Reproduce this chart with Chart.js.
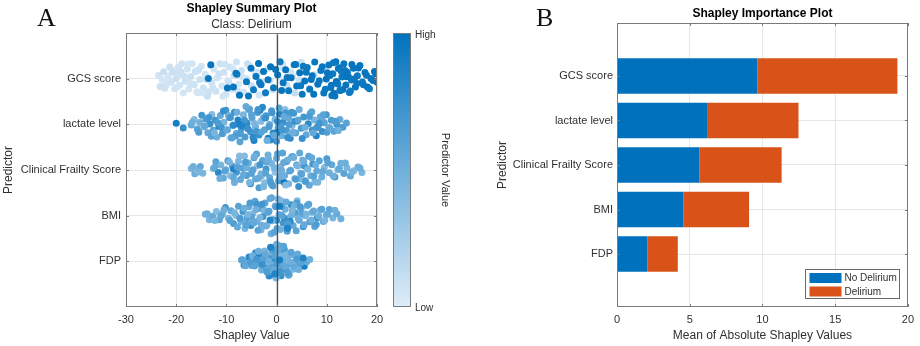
<!DOCTYPE html>
<html>
<head>
<meta charset="utf-8">
<script src="https://cdn.jsdelivr.net/npm/chart.js@4.4.1/dist/chart.umd.min.js"></script>
<style>
  body { margin: 0; background: #fff; width: 920px; height: 346px; position: relative; overflow: hidden; }
  .panel { position: absolute; top: 0; width: 460px; height: 346px; }
  .tag { position: absolute; font-family: "Liberation Serif", "Times New Roman", serif; font-size: 26px; line-height: 26px; color: #111; }
</style>
</head>
<body>
<div class="panel" style="left:0"><canvas id="summary"></canvas></div>
<div class="panel" style="left:460px"><canvas id="importance"></canvas></div>
<div class="tag" style="left:37px;top:5px">A</div>
<div class="tag" style="left:536px;top:5px">B</div>
<script>
// ---- data ----
const predictors = ['GCS score', 'lactate level', 'Clinical Frailty Score', 'BMI', 'FDP'];
const summaryTicks = [-30, -20, -10, 0, 10, 20];
const importanceTicks = [0, 5, 10, 15, 20];

// mean |shapley| per class
const noDelirium = [9.65, 6.24, 5.67, 4.57, 2.10];
const delirium = [9.63, 6.24, 5.65, 4.51, 2.08];

// [shapley value, predictor value 0..1] per observation
const gcs = [
  [-23.5,.06],[-23.2,.08],[-22.8,.05],[-22.5,.1],[-22.0,.07],[-21.6,.06],[-21.3,.09],[-21.0,.05],[-20.6,.08],[-20.3,.06],
  [-20.0,.1],[-19.6,.07],[-19.3,.05],[-19.0,.08],[-18.6,.06],[-18.2,.09],[-17.8,.07],[-17.5,.05],[-17.1,.1],[-16.8,.06],
  [-16.4,.08],[-16.0,.05],[-15.7,.07],[-15.3,.09],[-15.0,.06],[-14.6,.08],[-14.2,.05],[-13.8,.1],[-12.9,.07],[-12.5,.06],
  [-12.1,.08],[-11.7,.05],[-11.3,.09],[-10.9,.06],[-10.5,.08],[-10.1,.07],[-9.7,.05],[-9.3,.1],[-8.9,.06],[-8.5,.08],
  [-8.0,.07],[-7.5,.05],[-7.0,.09],[-6.5,.06],[-6.0,.08],[-5.4,.07],[-4.8,.05],[-4.2,.1],[-3.5,.06],[-2.8,.08],
  [-1.8,.07],[-0.8,.09],[0.4,.06],[1.2,.08],[2.0,.1],[2.8,.07],[3.6,.12],[4.5,.08],[5.4,.1],[6.5,.09],[7.5,.11],
  [-18.9,.07],[-17.3,.06],[-15.5,.09],[-13.5,.08],[-11.9,.06],[-10.3,.07],[-9.0,.05],[-19.8,.08],
  [-22.3,.07],[-21.8,.05],[-20.8,.09],[-19.9,.06],[-18.4,.08],[-17.7,.05],[-16.6,.07],[-16.2,.09],[-14.8,.06],[-14.0,.08],
  [-13.2,.05],[-12.7,.07],[-11.5,.09],[-10.7,.06],[-9.5,.08],[-8.7,.05],[-7.7,.07],[-6.8,.06],[-5.8,.08],[-5.0,.09],
  [-3.9,.07],[-2.4,.06],[-1.3,.08],[0.9,.07],[2.3,.09],[3.2,.06],[4.9,.08],[-21.1,.07],[-19.1,.09],[-15.9,.05],
  [-13.6,.95],[-13.1,.97],[-8.6,.96],[-8.1,.94],[-7.4,.98],[-6.0,.95],[-5.1,.97],[-4.6,.93],[-4.1,.96],[-3.6,.98],
  [-3.1,.95],[-2.6,.97],[-2.2,.94],[-1.7,.96],[-1.2,.98],[-0.6,.95],[0.2,.97],[0.7,.93],[1.3,.96],[1.8,.98],
  [2.4,.95],[2.9,.97],[3.5,.94],[4.0,.96],[4.6,.98],[5.1,.95],[5.6,.97],[6.1,.94],[6.6,.96],[7.1,.98],
  [7.6,.95],[8.2,.97],[8.8,.94],[9.4,.96],[9.9,.98],[10.4,.95],[10.8,.97],[11.2,.94],[11.6,.96],[12.0,.98],
  [12.3,.95],[12.7,.97],[13.0,.94],[13.4,.96],[13.8,.98],[14.1,.95],[14.5,.97],[14.9,.94],[15.3,.96],[15.7,.98],
  [16.1,.95],[16.6,.97],[17.1,.94],[17.6,.96],[18.1,.98],[18.8,.95],[19.5,.97],[20.0,.96],
  [10.1,.97],[11.0,.95],[11.9,.98],[12.5,.96],[13.2,.97],[14.3,.95],[15.0,.98],[16.0,.96],[12.9,.94],[11.4,.97],[6.9,.96],[5.3,.95],
  [-9.8,.96],[-7.9,.95],[-5.6,.97],[-3.4,.94],[-0.2,.96],[1.0,.98],[2.1,.95],[3.8,.97],[4.8,.94],[5.9,.96],
  [7.4,.98],[8.5,.95],[9.1,.97],[9.7,.94],[10.6,.96],[11.8,.98],[12.2,.95],[13.6,.97],[14.7,.94],[15.5,.96],
  [16.3,.98],[17.3,.95],[17.9,.97],[18.5,.94],[19.2,.96],[19.8,.98],[12.6,.95],[13.9,.97],[11.3,.94],[10.9,.96]
];
const lactate = [
  [-20.0,.9],[-18.6,.75],[-17.0,.55],[-16.4,.4],[-15.8,.6],[-15.3,.5],[-14.9,.7],[-14.5,.45],[-14.1,.65],[-13.7,.55],
  [-13.3,.75],[-12.9,.4],[-12.6,.6],[-12.2,.7],[-11.9,.5],[-11.5,.8],[-11.2,.55],[-10.8,.65],[-10.5,.45],[-10.1,.7],
  [-9.8,.6],[-9.4,.8],[-9.1,.5],[-8.7,.65],[-8.4,.75],[-8.0,.55],[-7.7,.85],[-7.3,.6],[-7.0,.7],[-6.6,.45],
  [-6.3,.65],[-5.9,.8],[-5.6,.55],[-5.2,.7],[-4.9,.6],[-4.5,.85],[-4.2,.5],[-3.8,.65],[-3.5,.75],[-3.1,.4],
  [-2.8,.8],[-2.4,.6],[-2.1,.7],[-1.7,.9],[-1.4,.55],[-1.0,.65],[-0.7,.8],[-0.3,.45],[0.0,.7],[0.3,.6],
  [0.6,.85],[1.0,.5],[1.3,.75],[1.7,.35],[2.0,.65],[2.4,.55],[2.7,.8],[3.1,.4],[3.4,.7],[3.8,.6],
  [4.1,.75],[4.5,.5],[4.9,.65],[5.4,.7],[5.9,.55],[6.3,.8],[6.7,.6],[7.1,.7],[7.5,.45],[7.9,.85],
  [8.3,.65],[8.7,.55],[9.1,.75],[9.5,.6],[9.9,.7],[10.4,.5],[10.9,.65],[11.4,.6],[12.0,.7],[12.6,.55],[13.2,.65],[13.9,.6],
  [-13.0,.6],[-11.0,.7],[-9.6,.5],[-8.2,.65],[-6.8,.75],[-5.4,.6],[-4.0,.7],[-2.6,.55],[-1.2,.8],[0.8,.65],
  [1.8,.7],[2.8,.5],[3.6,.75],[7.0,.6],[8.0,.7],[9.0,.55],[10.0,.65],[-7.5,.9],[-3.3,.85],[0.1,.9],
  [-16.8,.5],[-15.5,.65],[-14.3,.55],[-13.5,.7],[-12.4,.45],[-11.7,.65],[-10.6,.75],[-9.9,.55],[-9.2,.7],[-8.9,.6],
  [-8.6,.8],[-7.9,.5],[-7.2,.65],[-6.4,.7],[-6.1,.55],[-5.7,.75],[-5.0,.6],[-4.7,.8],[-4.4,.45],[-3.7,.7],
  [-3.0,.6],[-2.2,.75],[-1.9,.5],[-1.5,.65],[-0.9,.7],[-0.5,.55],[0.2,.8],[0.5,.6],[1.1,.7],[1.5,.55],
  [2.2,.75],[2.5,.65],[3.0,.7],[3.3,.5],[4.3,.6],[5.1,.75],[5.7,.5],[6.5,.65],[7.3,.55],[8.5,.7],
  [9.3,.6],[10.6,.55],[11.7,.65],[12.3,.5],[-6.9,.85]
];
const frailty = [
  [-17.0,.45],[-16.3,.5],[-15.8,.4],[-15.2,.55],[-14.7,.45],[-12.6,.5],[-12.1,.6],[-11.6,.8],[-11.1,.45],[-10.6,.55],
  [-10.1,.5],[-9.7,.65],[-9.2,.4],[-8.8,.6],[-8.4,.5],[-8.0,.7],[-7.6,.45],[-7.2,.55],[-6.8,.6],[-6.4,.4],
  [-6.0,.65],[-5.6,.5],[-5.2,.75],[-4.9,.45],[-4.5,.6],[-4.2,.55],[-3.8,.35],[-3.5,.65],[-3.1,.5],[-2.8,.6],
  [-2.4,.4],[-2.1,.7],[-1.7,.5],[-1.4,.55],[-1.0,.45],[-0.7,.6],[-0.3,.35],[0.0,.55],[0.4,.65],[0.8,.45],
  [1.2,.6],[1.6,.5],[2.0,.7],[2.4,.45],[2.8,.55],[3.2,.65],[3.6,.4],[4.0,.6],[4.4,.75],[4.8,.5],
  [5.2,.55],[5.6,.65],[6.0,.45],[6.4,.6],[6.8,.5],[7.2,.7],[7.6,.45],[8.0,.55],[8.5,.6],[9.0,.5],
  [9.5,.4],[10.0,.65],[10.5,.5],[11.0,.55],[11.6,.7],[12.2,.45],[12.8,.5],[13.4,.6],[14.0,.45],[14.7,.55],
  [15.4,.4],[16.2,.5],[17.0,.45],
  [-6.0,.5],[-4.0,.6],[-3.0,.45],[-2.0,.55],[-1.0,.65],[1.0,.5],[3.0,.6],[4.5,.45],[5.5,.7],[6.5,.55],
  [-5.0,.6],[2.2,.5],[1.5,.95],[-8.6,.85],
  [-16.6,.5],[-15.5,.45],[-12.3,.55],[-11.3,.5],[-10.3,.6],[-9.4,.45],[-8.6,.55],[-7.8,.6],[-7.4,.4],[-6.6,.55],
  [-6.2,.65],[-5.4,.45],[-4.7,.6],[-4.4,.5],[-3.6,.55],[-3.3,.7],[-2.6,.45],[-2.2,.6],[-1.6,.5],[-1.2,.65],
  [-0.5,.45],[0.2,.6],[0.6,.5],[1.4,.55],[1.8,.4],[2.6,.6],[3.4,.5],[3.8,.65],[4.2,.45],[4.6,.55],
  [5.0,.6],[5.4,.5],[5.8,.65],[6.2,.45],[7.0,.55],[7.4,.6],[7.8,.5],[8.2,.45],[9.2,.55],[10.2,.6],
  [11.3,.5],[12.5,.55],[13.7,.5],[15.0,.45],[16.6,.5]
];
const bmi = [
  [-14.2,.5],[-13.4,.45],[-12.7,.55],[-12.0,.4],[-11.4,.6],[-10.8,.5],[-10.2,.7],[-9.6,.45],[-9.1,.55],[-8.6,.65],
  [-8.1,.4],[-7.6,.6],[-7.1,.5],[-6.7,.7],[-6.3,.45],[-5.9,.6],[-5.5,.55],[-5.1,.75],[-4.7,.4],[-4.3,.6],
  [-3.9,.5],[-3.5,.65],[-3.1,.45],[-2.7,.7],[-2.3,.55],[-1.9,.35],[-1.5,.6],[-1.1,.5],[-0.7,.75],[-0.3,.45],
  [0.1,.65],[0.5,.55],[0.9,.4],[1.3,.7],[1.7,.5],[2.1,.6],[2.5,.45],[2.9,.75],[3.3,.55],[3.7,.65],
  [4.1,.4],[4.5,.6],[4.9,.5],[5.3,.7],[5.7,.45],[6.1,.55],[6.6,.65],[7.1,.5],[7.6,.6],[8.1,.75],
  [8.7,.45],[9.3,.55],[9.9,.5],[10.5,.6],[11.2,.45],[12.0,.55],[12.8,.5],
  [-5.0,.6],[-4.0,.7],[-3.0,.5],[-2.0,.65],[-1.0,.55],[0.0,.8],[1.0,.6],[2.0,.7],[3.0,.5],[4.0,.65],
  [-4.5,.55],[-2.5,.45],[-0.5,.6],[1.5,.75],[3.5,.5],[-6.0,.65],[5.0,.6],[0.3,.45],[2.7,.8],
  [-13.8,.5],[-12.3,.45],[-11.1,.55],[-10.5,.5],[-9.3,.6],[-8.4,.45],[-7.8,.55],[-7.3,.65],[-6.5,.5],[-6.1,.6],
  [-5.7,.45],[-5.3,.65],[-4.9,.55],[-4.1,.5],[-3.7,.6],[-3.3,.45],[-2.9,.7],[-2.1,.5],[-1.7,.6],[-1.3,.55],
  [-0.9,.45],[-0.1,.65],[0.7,.5],[1.1,.6],[1.9,.55],[2.3,.65],[3.1,.45],[3.9,.6],[4.3,.5],[4.7,.65],
  [5.5,.55],[5.9,.45],[6.4,.6],[6.9,.5],[7.4,.55],[7.9,.65],[8.4,.5],[9.0,.6],[9.6,.45],[10.2,.55],
  [11.6,.5],[-1.3,.85],[0.6,.9],[2.2,.85]
];
const fdp = [
  [-7.0,.55],[-6.5,.7],[-6.0,.5],[-5.5,.8],[-5.0,.6],[-4.6,.45],[-4.2,.75],[-3.8,.55],[-3.4,.85],[-3.0,.5],
  [-2.7,.65],[-2.4,.45],[-2.1,.7],[-1.8,.55],[-1.5,.8],[-1.2,.5],[-0.9,.6],[-0.6,.4],[-0.3,.7],[0.0,.55],
  [0.3,.65],[0.6,.45],[0.9,.75],[1.2,.5],[1.5,.6],[1.8,.7],[2.1,.45],[2.4,.55],[2.7,.65],[3.0,.5],
  [3.4,.6],[3.8,.45],[4.2,.55],[4.6,.7],[5.0,.5],[5.5,.9],[6.0,.55],[6.6,.5],
  [-2.0,.6],[-1.0,.75],[0.0,.5],[1.0,.65],[2.0,.55],[-0.5,.8],[0.5,.45],[1.5,.7],[-1.5,.55],[-2.5,.65],
  [2.5,.6],[0.2,.5],[-0.2,.7],[3.2,.45],[-3.2,.6],[0.8,.55],[-0.8,.65],
  [-6.8,.6],[-6.2,.55],[-5.2,.65],[-4.8,.5],[-4.4,.6],[-4.0,.7],[-3.6,.5],[-2.9,.75],[-2.2,.55],[-1.9,.65],
  [-1.6,.5],[-1.1,.7],[-0.7,.55],[-0.4,.6],[-0.1,.45],[0.1,.65],[0.4,.55],[0.7,.7],[1.1,.5],[1.4,.6],
  [1.7,.55],[1.9,.45],[2.2,.65],[2.6,.5],[2.9,.6],[3.6,.55],[4.0,.65],[4.4,.5],[4.8,.6],[5.3,.85],
  [-0.3,.85],[0.6,.9],[-1.2,.85]
];

// ---- styling ----
const family = '"Liberation Sans", Arial, sans-serif';
const textColor = '#303030';
const gridColor = '#e6e6e6';
const axisColor = '#7a7a7a';
Chart.defaults.font.family = family;
Chart.defaults.color = textColor;

const lowRGB = [222, 236, 248], highRGB = [0, 114, 189];
function cmap(t) {
  const c = lowRGB.map((l, k) => Math.round(l + (highRGB[k] - l) * t));
  return 'rgb(' + c.join(',') + ')';
}

// density based jitter like swarmchart, spread with a golden-ratio sequence
function swarmOffsets(pairs, maxHalf) {
  const xs = pairs.map(p => p[0]);
  const n = xs.length;
  const mean = xs.reduce((a, b) => a + b, 0) / n;
  const sd = Math.sqrt(xs.reduce((a, b) => a + (b - mean) * (b - mean), 0) / n);
  const h = 1.06 * sd * Math.pow(n, -0.2);
  const dens = xs.map(x => xs.reduce((s, v) => s + Math.exp(-0.5 * ((x - v) / h) ** 2), 0));
  const top = Math.max(...dens);
  return dens.map((d, i) => {
    const u = (i * 0.6180339887 + 0.31) % 1;
    return (2 * u - 1) * maxHalf * d / top;
  });
}

const points = [], colors = [];
[gcs, lactate, frailty, bmi, fdp].forEach((pairs, r) => {
  const off = swarmOffsets(pairs, 0.4);
  pairs.forEach((p, i) => {
    points.push({ x: p[0], y: r + 1 + off[i] });
    colors.push(cmap(p[1]));
  });
});

function drawFrame(chart, xTicks, yTicks) {
  const { ctx, chartArea: a, scales: { x, y } } = chart;
  ctx.save();
  ctx.strokeStyle = axisColor;
  ctx.lineWidth = 1;
  ctx.strokeRect(Math.round(a.left) + 0.5, Math.round(a.top) + 0.5, Math.round(a.right - a.left) - 1, Math.round(a.bottom - a.top) - 1);
  ctx.beginPath();
  xTicks.forEach(v => {
    const px = Math.round(x.getPixelForValue(v)) + 0.5;
    ctx.moveTo(px, a.bottom); ctx.lineTo(px, a.bottom - 3);
    ctx.moveTo(px, a.top); ctx.lineTo(px, a.top + 3);
  });
  yTicks.forEach(v => {
    const py = Math.round(y.getPixelForValue(v)) + 0.5;
    ctx.moveTo(a.left, py); ctx.lineTo(a.left + 3, py);
    ctx.moveTo(a.right, py); ctx.lineTo(a.right - 3, py);
  });
  ctx.stroke();
  ctx.restore();
}

const summaryDecor = {
  id: 'summaryDecor',
  afterDatasetsDraw(chart) {
    const { ctx, chartArea: a, scales: { x } } = chart;
    ctx.save();
    const x0 = Math.round(x.getPixelForValue(0)) + 0.5;
    ctx.strokeStyle = '#505050';
    ctx.lineWidth = 1.3;
    ctx.beginPath(); ctx.moveTo(x0, a.top); ctx.lineTo(x0, a.bottom); ctx.stroke();
    ctx.restore();
    drawFrame(chart, summaryTicks, [1, 2, 3, 4, 5]);

    ctx.save();
    ctx.fillStyle = '#000';
    ctx.textAlign = 'center';
    ctx.textBaseline = 'middle';
    const cx = (a.left + a.right) / 2;
    ctx.font = 'bold 12px ' + family;
    ctx.fillText('Shapley Summary Plot', cx, 9);
    ctx.fillStyle = textColor;
    ctx.font = '12px ' + family;
    ctx.fillText('Class: Delirium', cx, 25);

    // colorbar
    const cbL = a.right + 16, cbW = 17;
    const g = ctx.createLinearGradient(0, a.bottom, 0, a.top);
    g.addColorStop(0, cmap(0));
    g.addColorStop(1, cmap(1));
    ctx.fillStyle = g;
    ctx.fillRect(cbL, a.top, cbW, a.bottom - a.top);
    ctx.strokeStyle = axisColor;
    ctx.lineWidth = 1;
    ctx.strokeRect(cbL + 0.5, a.top + 0.5, cbW, a.bottom - a.top - 1);
    ctx.fillStyle = textColor;
    ctx.textAlign = 'left';
    ctx.font = '10px ' + family;
    ctx.fillText('High', cbL + cbW + 5, a.top + 2);
    ctx.fillText('Low', cbL + cbW + 5, a.bottom + 1);
    ctx.translate(445, (a.top + a.bottom) / 2);
    ctx.rotate(Math.PI / 2);
    ctx.textAlign = 'center';
    ctx.font = '11px ' + family;
    ctx.fillText('Predictor Value', 0, 0);
    ctx.restore();
  }
};

const importanceDecor = {
  id: 'importanceDecor',
  afterDatasetsDraw(chart) {
    const { ctx, chartArea: a } = chart;
    drawFrame(chart, importanceTicks, [1, 2, 3, 4, 5]);
    ctx.save();
    ctx.fillStyle = '#000';
    ctx.textAlign = 'center';
    ctx.textBaseline = 'middle';
    ctx.font = 'bold 12px ' + family;
    ctx.fillText('Shapley Importance Plot', (a.left + a.right) / 2, 14);

    // legend, lower right inside the axes
    const bw = 94, bh = 29;
    const bx = Math.round(a.right - 9 - bw) + 0.5, by = Math.round(a.bottom - 9 - bh) + 0.5;
    ctx.fillStyle = '#fff';
    ctx.fillRect(bx, by, bw, bh);
    ctx.strokeStyle = '#6a6a6a';
    ctx.lineWidth = 1;
    ctx.strokeRect(bx, by, bw, bh);
    ctx.textAlign = 'left';
    ctx.font = '10px ' + family;
    chart.data.datasets.forEach((ds, i) => {
      const sy = by + 3.5 + i * 13.5;
      ctx.fillStyle = ds.backgroundColor;
      ctx.fillRect(bx + 4, sy, 32, 10);
      ctx.fillStyle = textColor;
      ctx.fillText(ds.label, bx + 39, sy + 5.5);
    });
    ctx.restore();
  }
};

// ---- left: summary swarm ----
new Chart(document.getElementById('summary'), {
  type: 'scatter',
  data: {
    datasets: [{
      data: points,
      pointBackgroundColor: colors,
      pointBorderWidth: 0,
      pointRadius: 3.5,
      clip: 0
    }]
  },
  options: {
    responsive: true,
    maintainAspectRatio: false,
    animation: false,
    events: [],
    layout: { padding: { left: 0, right: 83, top: 33, bottom: 0 } },
    plugins: { legend: { display: false }, tooltip: { enabled: false } },
    scales: {
      x: {
        type: 'linear', min: -30, max: 20,
        afterBuildTicks: s => { s.ticks = summaryTicks.map(v => ({ value: v })); },
        afterFit: s => { s.height = 39; },
        grid: { color: gridColor, drawTicks: false },
        border: { display: false },
        ticks: { font: { size: 11 }, color: textColor, padding: 6 },
        title: { display: true, text: 'Shapley Value', font: { size: 12 }, color: textColor, padding: { top: 0, bottom: 3 } }
      },
      y: {
        type: 'linear', reverse: true, min: 0, max: 6,
        afterBuildTicks: s => { s.ticks = predictors.map((p, i) => ({ value: i + 1 })); },
        afterFit: s => { s.width = 126; },
        grid: { color: gridColor, drawTicks: false },
        border: { display: false },
        ticks: { font: { size: 11 }, color: textColor, padding: 5, callback: v => predictors[Math.round(v) - 1] },
        title: { display: true, text: 'Predictor', font: { size: 12 }, color: textColor, padding: { top: 1, bottom: 0 } }
      }
    }
  },
  plugins: [summaryDecor]
});

// ---- right: stacked importance bars ----
new Chart(document.getElementById('importance'), {
  type: 'bar',
  data: {
    datasets: [
      { label: 'No Delirium', data: noDelirium.map((v, i) => ({ x: v, y: i + 1 })), backgroundColor: '#0072BD', borderWidth: 0, barPercentage: 0.8, categoryPercentage: 1 },
      { label: 'Delirium', data: delirium.map((v, i) => ({ x: v, y: i + 1 })), backgroundColor: '#D95319', borderWidth: 0, barPercentage: 0.8, categoryPercentage: 1 }
    ]
  },
  options: {
    indexAxis: 'y',
    responsive: true,
    maintainAspectRatio: false,
    animation: false,
    events: [],
    layout: { padding: { left: 0, right: 8, top: 23, bottom: 0 } },
    plugins: { legend: { display: false }, tooltip: { enabled: false } },
    scales: {
      x: {
        type: 'linear', stacked: true, min: 0, max: 20,
        afterBuildTicks: s => { s.ticks = importanceTicks.map(v => ({ value: v })); },
        afterFit: s => { s.height = 39; },
        grid: { color: gridColor, drawTicks: false },
        border: { display: false },
        ticks: { font: { size: 11 }, color: textColor, padding: 6 },
        title: { display: true, text: 'Mean of Absolute Shapley Values', font: { size: 12 }, color: textColor, padding: { top: 0, bottom: 3 } }
      },
      y: {
        type: 'linear', stacked: true, reverse: true, offset: false, min: -0.19, max: 6.19,
        afterBuildTicks: s => { s.ticks = predictors.map((p, i) => ({ value: i + 1 })); },
        afterFit: s => { s.width = 157; },
        grid: { color: gridColor, drawTicks: false, offset: false },
        border: { display: false },
        ticks: { font: { size: 11 }, color: textColor, padding: 4, callback: v => predictors[Math.round(v) - 1] },
        title: { display: true, text: 'Predictor', font: { size: 12 }, color: textColor, padding: { top: 35, bottom: 0 } }
      }
    }
  },
  plugins: [importanceDecor]
});
</script>
</body>
</html>
